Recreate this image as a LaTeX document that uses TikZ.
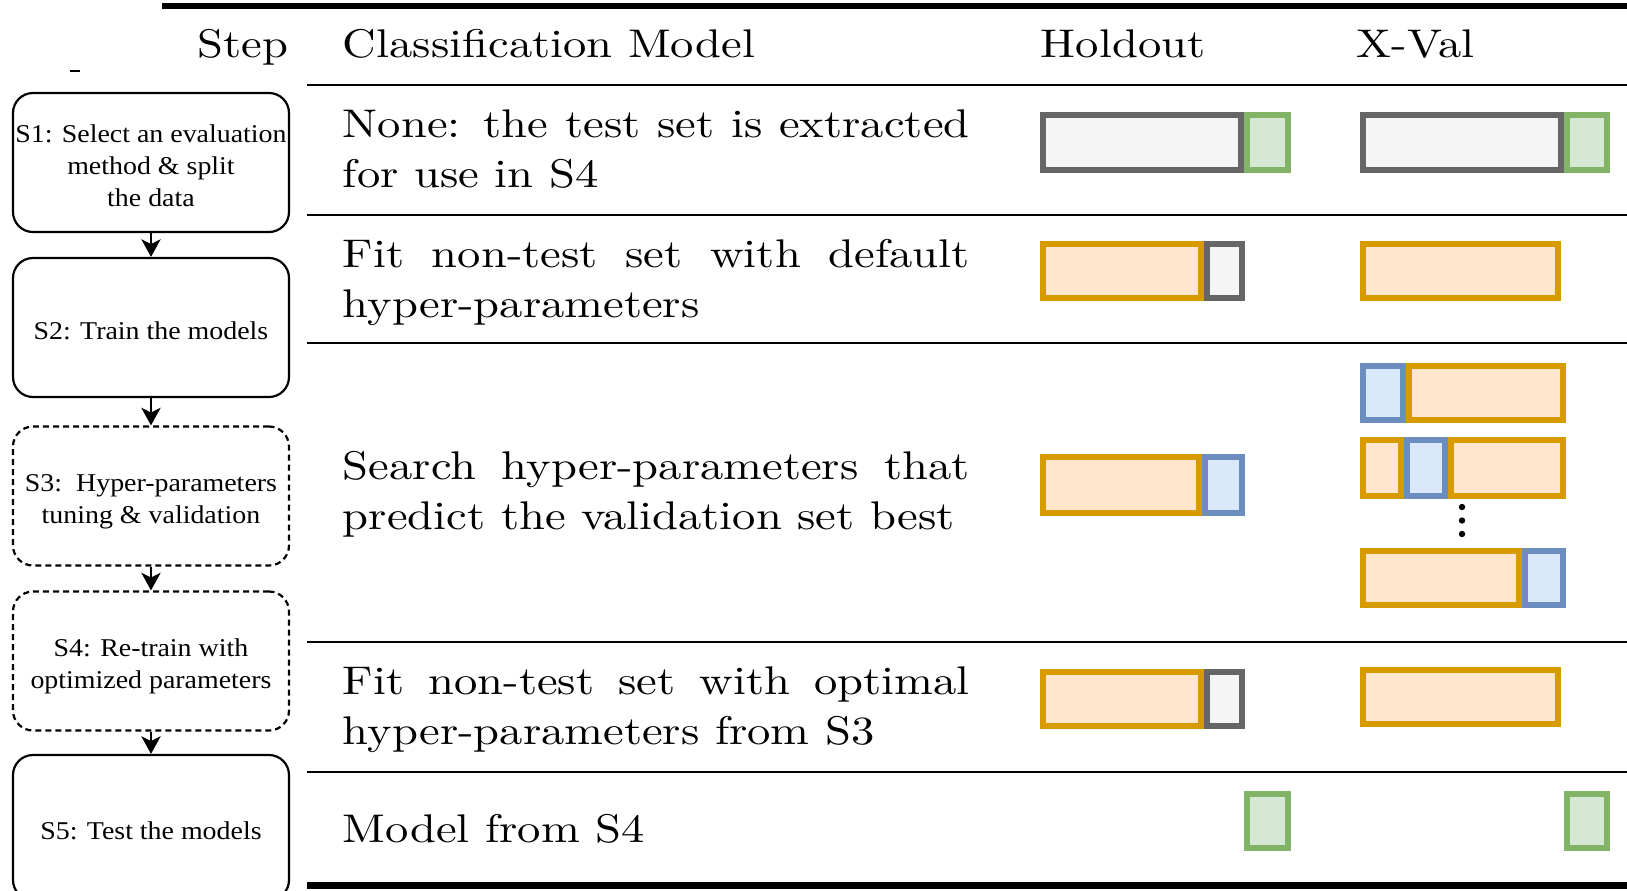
\documentclass[tikz,border=0pt]{standalone}
\usepackage{fontspec}
\usepackage{graphicx}
\usetikzlibrary{arrows.meta}
\newfontfamily\stepfont{Liberation Serif}

\definecolor{grayline}{HTML}{666666}
\definecolor{grayfill}{HTML}{F5F5F5}
\definecolor{greenline}{HTML}{82B366}
\definecolor{greenfill}{HTML}{D5E8D4}
\definecolor{orangeline}{HTML}{D79B00}
\definecolor{orangefill}{HTML}{FFE6CC}
\definecolor{blueline}{HTML}{6C8EBF}
\definecolor{bluefill}{HTML}{DAE8FC}

% centred, slightly widened multi-line label for the step boxes
% (the taller first-row strut sets the text a little below the box centre)
\newcommand\steptext[1]{\scalebox{1.09}[1]{\begin{tabular}{@{}c@{}}\rule{0pt}{8.2pt}#1\end{tabular}}}
% one bar segment: style, left, right, top, bottom (outer edges)
\newcommand\seg[5]{\draw[#1] ({#2+3},{#4+3}) rectangle ({#3-3},{#5-3});}

\tikzset{
  hdr/.style={anchor=base west, inner sep=0pt, xscale=1.165,
    font=\fontsize{10}{12.5}\selectfont},
  cell/.style={anchor=base west, inner sep=0pt, xscale=1.165,
    text width=134.5pt, align=justify, font=\fontsize{10}{12.5}\selectfont},
  stepbox/.style={draw, line width=0.55pt, rounded corners=5pt,
    minimum width=69pt, minimum height=34.75pt, inner sep=0pt,
    font=\stepfont\fontsize{6.4}{8}\selectfont},
  stepdash/.style={stepbox, dash pattern=on 1.5pt off 1pt},
  arr/.style={line width=0.65pt, -{Stealth[length=4.4pt,width=4.8pt,inset=1.2pt]}},
  heavyrule/.style={line width=1.5pt},
  thinrule/.style={line width=0.55pt},
  bar/.style={line width=1.5pt},
  grayseg/.style={bar, draw=grayline, fill=grayfill},
  greenseg/.style={bar, draw=greenline, fill=greenfill},
  orangeseg/.style={bar, draw=orangeline, fill=orangefill},
  blueseg/.style={bar, draw=blueline, fill=bluefill},
}

\begin{document}
\begin{tikzpicture}[x=0.25pt, y=-0.25pt]
\clip (0,0) rectangle (1627,890);

% table rules
\draw[heavyrule] (162,6) -- (1627,6);
\draw[thinrule] (307,85) -- (1627,85);
\draw[thinrule] (307,215) -- (1627,215);
\draw[thinrule] (307,343) -- (1627,343);
\draw[thinrule] (307,642) -- (1627,642);
\draw[thinrule] (307,772) -- (1627,772);
\draw[line width=1.75pt] (307,885.5) -- (1627,885.5);
\draw[line width=0.4pt] (70,71) -- (80,71);

% header
\node[hdr] (hstep) at (197,57) {Step};
\node[hdr] (hmodel) at (342,57) {Classification Model};
\node[hdr] (hhold) at (1040,57) {Holdout};
\node[hdr] (hxval) at (1356,57) {X-Val};

% step flow
\node[stepbox]  (s1) at (151,162.5) {\steptext{S1: Select an evaluation\\ method \& split\\ the data}};
\node[stepbox]  (s2) at (151,327.5) {\steptext{S2: Train the models}};
\node[stepdash] (s3) at (151,496)   {\steptext{S3:~~Hyper-parameters\\ tuning \& validation}};
\node[stepdash] (s4) at (151,661)   {\steptext{S4: Re-train with\\ optimized parameters}};
\node[stepbox, minimum height=36.25pt] (s5) at (151,827.5) {\steptext{S5: Test the models}};
\draw[arr] (s1) -- (s2);
\draw[arr] (s2) -- (s3);
\draw[arr] (s3) -- (s4);
\draw[arr] (s4) -- (s5);

% model descriptions
\node[cell] (m1) at (342,137) {None: the test set is extracted\linebreak for use in S4};
\node[cell] (m2) at (342,267) {Fit non-test set with default\linebreak hyper-parameters};
\node[cell] (m3) at (342,479) {Search hyper-parameters that\linebreak predict the validation set best};
\node[cell] (m4) at (342,694) {Fit non-test set with optimal\linebreak hyper-parameters from S3};
\node[cell] (m5) at (342,842) {Model from S4};

% S1: data split
\seg{grayseg}{1040}{1244}{112}{173}
\seg{greenseg}{1244}{1291}{112}{173}
\seg{grayseg}{1360}{1564}{112}{173}
\seg{greenseg}{1564}{1610}{112}{173}

% S2: default fit
\seg{orangeseg}{1040}{1204}{241}{301}
\seg{grayseg}{1204}{1245}{241}{301}
\seg{orangeseg}{1360}{1561}{241}{301}

% S3: validation
\seg{orangeseg}{1040}{1202}{454}{516}
\seg{blueseg}{1202}{1245}{454}{516}
\seg{blueseg}{1360}{1406}{363}{423}
\seg{orangeseg}{1406}{1566}{363}{423}
\seg{orangeseg}{1360}{1404}{437}{499}
\seg{blueseg}{1404}{1448}{437}{499}
\seg{orangeseg}{1448}{1566}{437}{499}
\fill (1462,507) circle[radius=0.8pt];
\fill (1462,520.5) circle[radius=0.8pt];
\fill (1462,534) circle[radius=0.8pt];
\seg{orangeseg}{1360}{1522}{548}{608}
\seg{blueseg}{1522}{1566}{548}{608}

% S4: re-train
\seg{orangeseg}{1040}{1204}{669}{729}
\seg{grayseg}{1204}{1245}{669}{729}
\seg{orangeseg}{1360}{1561}{667}{727}

% S5: test
\seg{greenseg}{1244}{1291}{791}{851}
\seg{greenseg}{1564}{1610}{791}{851}
\end{tikzpicture}
\end{document}
